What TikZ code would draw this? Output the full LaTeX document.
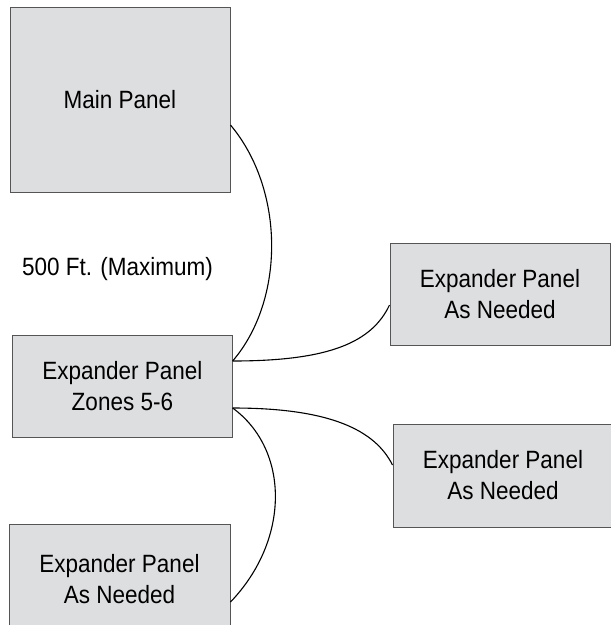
\documentclass[tikz,border=0pt]{standalone}
\usepackage{fontspec}
\setmainfont[FakeStretch=0.9]{Liberation Sans}
\usetikzlibrary{calc}
\definecolor{boxfill}{RGB}{221,222,224}
\definecolor{boxline}{RGB}{85,85,85}
\tikzset{
  panel/.style={draw=boxline, line width=1pt, fill=boxfill, align=center,
    inner sep=0pt, font=\fontsize{25}{31}\selectfont, text=black},
  wire/.style={draw=black, line width=1.1pt}
}
\begin{document}
\begin{tikzpicture}[x=1pt,y=-1pt]
\useasboundingbox (0,0) rectangle (611,625);
\clip (0,0) rectangle (611,625);
\node[panel, minimum width=220pt, minimum height=185pt] (main) at (120,99.5) {Main Panel};
\node[panel, minimum width=219.5pt, minimum height=102pt] (zones) at (122.4,386) {Expander Panel\\Zones 5-6};
\node[panel, minimum width=220pt, minimum height=102pt] (rtop) at (500,294) {Expander Panel\\As Needed};
\node[panel, minimum width=220pt, minimum height=103pt] (rbot) at (503,475.5) {Expander Panel\\As Needed};
\node[panel, minimum width=221pt, minimum height=110pt] (bot) at (119.5,579) {Expander Panel\\As Needed};
\node[font=\fontsize{25}{31}\selectfont, anchor=base, inner sep=0pt] (len) at (117.5,275) {500 Ft. (Maximum)};
\draw[wire] ([yshift=-25.5pt]main.east) .. controls (285,190) and (285,300) .. ([yshift=25pt]zones.east);
\draw[wire] ([yshift=25pt]zones.east) .. controls (330,361) and (372,342) .. ([yshift=-11pt]rtop.west);
\draw[wire] ([yshift=-22pt]zones.east) .. controls (330,408) and (375,430) .. ([yshift=10.5pt]rbot.west);
\draw[wire] ([yshift=-22pt]zones.east) .. controls (290,450) and (290,540) .. ([yshift=-23pt]bot.east);
\end{tikzpicture}
\end{document}
